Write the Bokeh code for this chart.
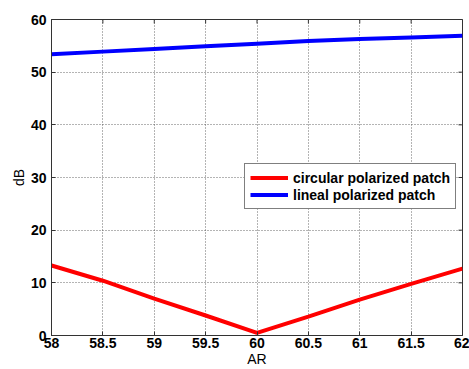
import math
from bokeh.plotting import figure
from bokeh.models import Range1d, Legend, LegendItem, FixedTicker
from bokeh.embed import file_html
from bokeh.resources import INLINE

ar = [58, 58.5, 59, 59.5, 60, 60.5, 61, 61.5, 62]
circular_db = [13.3, 10.4, 7.0, 3.8, 0.5, 3.6, 6.8, 9.8, 12.7]
lineal_db = [53.4, 53.9, 54.4, 54.9, 55.4, 55.9, 56.3, 56.6, 56.9]
x_ticks = [58, 58.5, 59, 59.5, 60, 60.5, 61, 61.5, 62]
y_ticks = [0, 10, 20, 30, 40, 50, 60]

FONT = "Liberation Sans"
AX = "#333333"
X_MIN, X_MAX, Y_MIN, Y_MAX = 58, 62, 0, 60

p = figure(width=469, height=369, output_backend="svg", toolbar_location=None,
           x_range=Range1d(X_MIN, X_MAX), y_range=Range1d(Y_MIN, Y_MAX),
           min_border_left=51, min_border_right=7, min_border_top=19, min_border_bottom=34)
p.background_fill_color = "white"
p.border_fill_color = "white"
p.outline_line_color = AX
p.outline_line_width = 1

for ax in (p.xaxis[0], p.yaxis[0]):
    ax.axis_line_color = AX
    ax.major_tick_line_color = AX
    ax.major_tick_in = 4
    ax.major_tick_out = 0
    ax.minor_tick_line_color = None
    ax.major_label_text_font = FONT
    ax.major_label_text_font_size = "14px"
    ax.major_label_text_font_style = "bold"
    ax.major_label_text_color = "black"
    ax.axis_label_text_font = FONT
    ax.axis_label_text_font_size = "14px"
    ax.axis_label_text_font_style = "normal"
    ax.axis_label_text_color = "black"

p.xaxis.ticker = FixedTicker(ticks=x_ticks)
p.yaxis.ticker = FixedTicker(ticks=y_ticks)
p.xaxis.axis_label = "AR"
p.yaxis.axis_label = "dB"
p.xaxis.major_label_standoff = 2
p.xaxis.axis_label_standoff = 0
p.yaxis.major_label_standoff = 5
p.yaxis.axis_label_standoff = 1

p.xgrid.ticker = FixedTicker(ticks=x_ticks)
p.ygrid.ticker = FixedTicker(ticks=y_ticks)
for g in (p.xgrid[0], p.ygrid[0]):
    g.grid_line_color = "#444444"
    g.grid_line_dash = "1 2"
    g.grid_line_width = 1
    g.grid_line_alpha = 0.8

# mirrored inward ticks on the right and top edges
p.scatter([X_MAX] * len(y_ticks), y_ticks, marker="dash", size=8,
          line_color=AX, line_width=1)
p.scatter(x_ticks, [Y_MAX] * len(x_ticks), marker="dash", size=8, angle=math.pi / 2,
          line_color=AX, line_width=1)

r1 = p.line(ar, circular_db, line_color="#ff0000", line_width=4)
r2 = p.line(ar, lineal_db, line_color="#0000ff", line_width=4)

legend = Legend(items=[LegendItem(label="circular polarized patch", renderers=[r1]),
                       LegendItem(label="lineal polarized patch", renderers=[r2])],
                location=(193, 126), orientation="vertical")
legend.label_text_font = FONT
legend.label_text_font_size = "14px"
legend.label_text_font_style = "bold"
legend.label_text_color = "black"
legend.border_line_color = "black"
legend.border_line_width = 1
legend.background_fill_color = "white"
legend.background_fill_alpha = 1
legend.padding = 5
legend.spacing = 0
legend.margin = 0
legend.glyph_width = 38
legend.glyph_height = 17
legend.label_height = 17
legend.label_standoff = 5
p.add_layout(legend, "center")

open("out.html", "w").write(file_html(p, INLINE))
